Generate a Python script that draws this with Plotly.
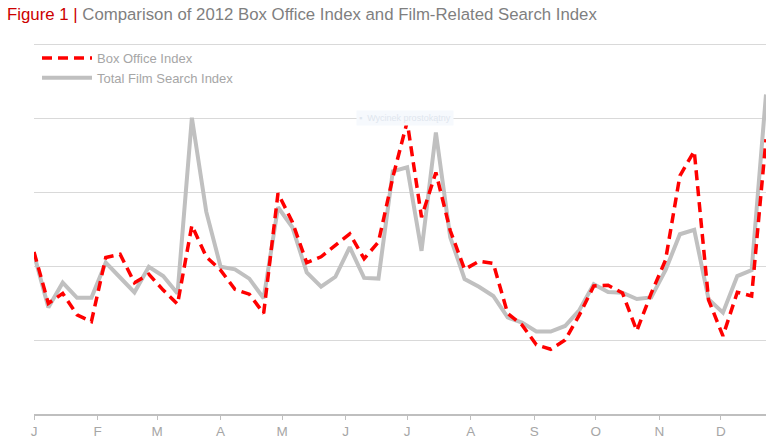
import pandas as pd
import plotly.graph_objects as go

# weekly index values, 2012 (gridlines every 20)
weeks = pd.date_range("2012-01-01", periods=52, freq="7D")

box_office = [43.8, 29.9, 32.6, 26.8, 25.0, 42.3, 43.2, 35.5, 37.8, 33.5,
              29.7, 51.0, 42.5, 38.9, 33.7, 32.4, 27.2, 59.7, 51.9, 40.9,
              42.5, 45.6, 48.7, 42.0, 46.5, 64.0, 79.0, 53.2, 65.3, 49.6,
              39.1, 41.3, 40.7, 27.2, 24.1, 18.7, 17.5, 20.0, 26.8, 34.6,
              34.8, 32.7, 22.5, 32.6, 41.6, 64.4, 71.1, 30.8, 21.1, 32.9,
              31.9, 74.3]

film_search = [43.2, 28.8, 35.5, 31.4, 31.4, 40.9, 36.9, 32.9, 39.8, 37.3,
               32.6, 80.1, 54.7, 39.8, 39.1, 36.6, 31.3, 55.9, 50.5, 38.3,
               34.4, 37.1, 45.1, 36.8, 36.6, 65.6, 66.7, 44.1, 76.1, 47.8,
               36.5, 34.4, 31.9, 26.1, 24.7, 22.3, 22.3, 23.8, 28.1, 35.1,
               33.0, 32.8, 31.1, 31.5, 38.9, 48.6, 49.8, 31.0, 27.4, 37.3,
               38.9, 86.4]

month_starts = pd.date_range("2012-01-01", periods=12, freq="MS")
month_labels = ["J", "F", "M", "A", "M", "J", "J", "A", "S", "O", "N", "D"]

fig = go.Figure()

fig.add_trace(go.Scatter(
    x=weeks, y=film_search, name="Total Film Search Index",
    mode="lines", line=dict(color="#c0c0c0", width=4),
    legendrank=2, legendgroup="b",
))
fig.add_trace(go.Scatter(
    x=weeks, y=box_office, name="Box Office Index",
    mode="lines", line=dict(color="#ff0000", width=3.5, dash="10px,6px"),
    legendrank=1, legendgroup="a",
))

# faint leftover tooltip seen in the source image
fig.add_annotation(
    x=0.507, y=0.819, xref="paper", yref="paper",
    text="▪  Wycinek prostokątny", showarrow=False,
    font=dict(family="Liberation Sans", size=9, color="#dfe6ee"),
    bgcolor="#f6f9fd", borderpad=2,
)

# a little taller than the window so the month letters are not clipped
fig.update_layout(
    width=781, height=448,
    margin=dict(l=34, r=15, t=43, b=33.5),
    paper_bgcolor="white", plot_bgcolor="white",
    font=dict(family="Liberation Sans, Arial, sans-serif", color="#a6a6a6"),
    title=dict(
        text="<span style='color:#cc0000'>Figure 1 |</span> Comparison of 2012 Box Office Index and Film-Related Search Index",
        x=7 / 781, xref="container", xanchor="left",
        y=1 - 14 / 448, yref="container", yanchor="middle",
        font=dict(size=16.8, color="#7f7f7f"),
    ),
    legend=dict(
        x=3 / 732, y=1, xanchor="left", yanchor="top",
        bgcolor="rgba(0,0,0,0)", font=dict(size=13, color="#a6a6a6"),
        itemwidth=50, tracegroupgap=0,
    ),
    showlegend=True,
)

fig.update_xaxes(
    range=[pd.Timestamp("2012-01-01"), pd.Timestamp("2012-12-23")],
    tickvals=month_starts, ticktext=month_labels,
    showgrid=False, showline=True, linecolor="#bfbfbf", linewidth=1.5,
    ticks="outside", ticklen=4, tickcolor="#bfbfbf",
    tickfont=dict(size=13.5, color="#a6a6a6"), automargin=False,
)
fig.update_yaxes(
    range=[0, 100.3], dtick=20, showticklabels=False, automargin=False,
    showgrid=True, gridcolor="#d9d9d9", gridwidth=1.2, zeroline=False,
)

# drop the default body margin so the figure sits at the window corner
fig.write_html("out.html", config={"displayModeBar": False},
               post_script="document.body.style.margin = '0';")
